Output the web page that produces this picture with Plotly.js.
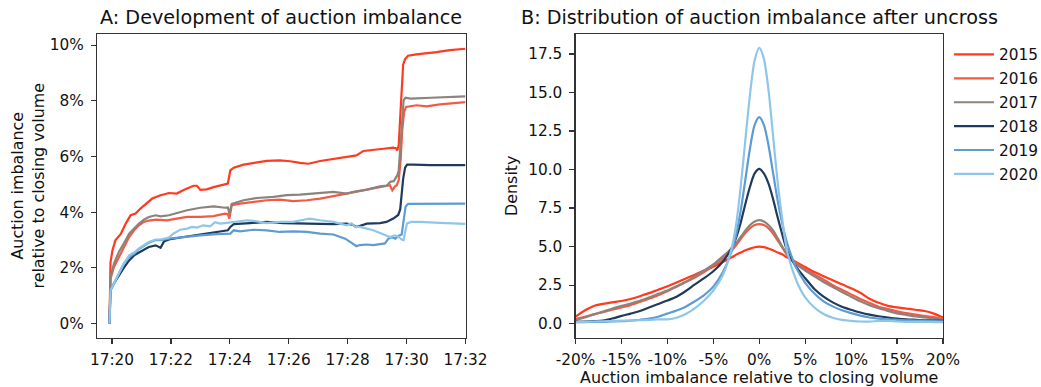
<!DOCTYPE html>
<html><head><meta charset="utf-8">
<script src="https://cdn.plot.ly/plotly-3.0.1.min.js"></script>
<style>html,body{margin:0;padding:0;background:#fff;} #chart{width:1041px;height:387px;}</style>
</head><body><div id="chart"></div>
<script>
// ---------- data ----------
const years = ['2015', '2016', '2017', '2018', '2019', '2020'];
const colors = ['#ff3a1f', '#f25a43', '#8c837c', '#1e3a5c', '#5e9bd0', '#8ec6ea'];

// Panel A: seconds relative to 17:20:00, imbalance in %
const t2015 = [-5,-3,1,7,18,28,38,48,58,69,82,99,116,132,146,166,173,180,193,207,224,236,241,248,268,288,315,342,363,383,400,424,451,478,498,512,532,553,573,578,581,584,587,590,593,597,603,620,641,661,688,720];
const v2015 = [0,2.2,2.63,2.99,3.22,3.59,3.89,3.95,4.13,4.31,4.49,4.61,4.69,4.67,4.8,4.95,4.95,4.8,4.82,4.9,4.99,5.03,5.5,5.6,5.71,5.77,5.84,5.86,5.83,5.77,5.74,5.84,5.92,5.98,6.04,6.2,6.25,6.28,6.32,6.3,6.22,6.4,7.4,8.6,9.3,9.5,9.62,9.67,9.7,9.75,9.82,9.87];

const t2016 = [-5,-3,4,14,24,35,45,55,65,75,90,112,132,153,180,207,230,236,239,244,261,288,315,342,369,397,424,451,478,505,532,546,560,566,571,576,580,584,588,591,595,599,620,641,668,695,720];
const v2016 = [0,1.6,2.03,2.39,2.75,3.11,3.35,3.53,3.65,3.7,3.73,3.71,3.77,3.83,3.83,3.86,3.95,3.93,3.77,4.25,4.31,4.37,4.43,4.45,4.4,4.43,4.49,4.58,4.67,4.75,4.85,4.9,4.95,4.97,4.79,4.92,4.97,5.15,5.9,6.9,7.6,7.78,7.84,7.8,7.87,7.92,7.95];

const t2017 = [-5,-3,4,14,24,35,45,55,65,75,89,99,116,132,153,180,207,230,236,239,244,268,295,329,356,383,417,451,478,492,519,546,560,567,574,581,584,587,591,594,598,608,649,688,720];
const v2017 = [0,1.67,2.15,2.57,2.87,3.23,3.41,3.59,3.73,3.83,3.89,3.85,3.89,3.97,4.07,4.16,4.21,4.16,4.17,3.95,4.3,4.43,4.51,4.55,4.61,4.63,4.67,4.73,4.67,4.73,4.81,4.93,4.96,5.09,5.12,5.32,5.5,6.22,7.42,8.02,8.11,8.08,8.11,8.14,8.16];

const t2018 = [-5,-3,4,14,24,35,45,55,65,75,89,99,106,116,146,180,214,236,241,248,281,315,349,383,417,451,478,490,498,519,546,559,573,583,587,590,593,597,601,614,648,720];
const v2018 = [0,1.2,1.44,1.73,2.0,2.27,2.45,2.55,2.65,2.75,2.81,2.72,2.95,3.02,3.11,3.21,3.29,3.35,3.47,3.57,3.61,3.65,3.61,3.59,3.59,3.57,3.59,3.55,3.47,3.59,3.61,3.65,3.77,3.9,4.1,4.6,5.2,5.6,5.71,5.71,5.69,5.69];

const t2019 = [-5,-3,4,14,24,35,45,55,65,75,89,99,116,146,180,214,236,241,248,261,288,315,342,370,397,424,451,464,475,488,498,505,519,532,546,556,563,570,577,583,590,594,598,603,650,720];
const v2019 = [0,1.2,1.44,1.8,2.15,2.39,2.5,2.68,2.8,2.9,3.0,3.0,3.05,3.11,3.17,3.21,3.21,3.23,3.35,3.31,3.37,3.35,3.29,3.31,3.29,3.23,3.2,3.11,3.05,2.9,2.78,2.82,2.84,2.82,2.84,2.88,3.05,3.1,3.05,3.15,3.2,3.7,4.2,4.3,4.31,4.31];

const t2020 = [-5,-3,4,14,24,35,45,55,65,75,89,99,116,125,139,153,163,173,186,200,210,220,230,247,275,288,315,342,369,390,403,424,451,464,478,488,495,505,519,532,546,559,566,576,583,590,594,597,601,610,627,668,720];
const v2020 = [0,1.2,1.44,1.8,2.15,2.45,2.55,2.7,2.82,2.93,3.02,3.02,3.09,3.23,3.37,3.41,3.47,3.45,3.53,3.49,3.64,3.59,3.61,3.65,3.71,3.69,3.61,3.65,3.65,3.73,3.77,3.71,3.65,3.59,3.53,3.6,3.47,3.47,3.4,3.35,3.25,3.15,3.11,3.17,3.12,3.02,3.0,3.3,3.6,3.65,3.65,3.62,3.58];

// Panel B: imbalance (%) grid and densities
const densityX = [-20,-19,-18,-17,-16,-15,-14,-13,-12,-11,-10,-9,-8,-7,-6,-5,-4,-3,-2.5,-2,-1.5,-1,-0.5,0,0.5,1,1.5,2,2.5,3,4,5,6,7,8,9,10,11,12,13,14,15,16,17,18,19,20];
const d2015 = [0.45,0.85,1.15,1.28,1.38,1.47,1.6,1.78,1.98,2.2,2.42,2.67,2.93,3.18,3.45,3.7,4.0,4.3,4.48,4.62,4.76,4.87,4.96,5.0,4.97,4.88,4.76,4.62,4.5,4.3,4.0,3.67,3.35,3.08,2.82,2.55,2.3,2.0,1.62,1.35,1.15,1.05,0.98,0.9,0.82,0.65,0.4];
const d2016 = [0.3,0.45,0.6,0.75,0.9,1.05,1.2,1.4,1.62,1.85,2.1,2.4,2.7,3.0,3.35,3.75,4.2,4.75,5.1,5.5,5.9,6.2,6.4,6.46,6.4,6.2,5.85,5.4,4.95,4.5,3.95,3.55,3.2,2.85,2.5,2.2,1.9,1.6,1.35,1.1,0.95,0.8,0.68,0.58,0.5,0.42,0.3];
const d2017 = [0.22,0.4,0.6,0.78,0.97,1.15,1.3,1.48,1.7,1.93,2.15,2.42,2.72,3.08,3.45,3.85,4.35,4.9,5.25,5.65,6.05,6.4,6.63,6.72,6.63,6.4,6.05,5.55,5.0,4.5,3.86,3.45,3.07,2.7,2.38,2.05,1.75,1.45,1.2,1.0,0.83,0.67,0.57,0.47,0.4,0.33,0.25];
const d2018 = [0.11,0.13,0.16,0.2,0.33,0.5,0.65,0.82,1.05,1.27,1.5,1.75,2.12,2.55,2.95,3.4,4.0,4.9,5.6,6.6,7.8,8.9,9.75,10.04,9.75,9.1,8.1,6.9,5.8,4.8,3.7,2.95,2.25,1.75,1.38,1.1,0.9,0.72,0.58,0.48,0.4,0.33,0.28,0.25,0.22,0.2,0.18];
const d2019 = [0.1,0.1,0.11,0.12,0.14,0.16,0.2,0.25,0.32,0.45,0.65,0.85,1.1,1.45,1.85,2.4,3.3,4.7,5.8,7.4,9.4,11.4,12.9,13.4,12.9,11.6,9.8,8.0,6.5,5.3,3.65,2.65,1.95,1.45,1.12,0.87,0.68,0.52,0.4,0.33,0.28,0.25,0.22,0.2,0.18,0.16,0.15];
const d2020 = [0.1,0.12,0.14,0.15,0.17,0.19,0.2,0.22,0.24,0.27,0.28,0.38,0.62,1.0,1.5,2.15,3.1,4.9,6.5,9.0,12.0,14.9,17.1,17.9,17.2,15.2,12.2,9.2,6.8,4.8,2.85,1.7,1.05,0.62,0.38,0.24,0.18,0.14,0.13,0.18,0.18,0.14,0.12,0.12,0.11,0.1,0.1];

// tick labels
const timeTickLabelsFormat = '%H:%M';
const densityTicks = [-20,-15,-10,-5,0,5,10,15,20];
const densityTickLabels = ['-20%','-15%','-10%','-5%','0%','5%','10%','15%','20%'];
const densityYTicks = [0,2.5,5,7.5,10,12.5,15,17.5];
const densityYTickLabels = ['0.0','2.5','5.0','7.5','10.0','12.5','15.0','17.5'];
const imbalanceYTicks = [0,2,4,6,8,10];
const imbalanceYTickLabels = ['0%','2%','4%','6%','8%','10%'];

// ---------- build ----------
function pad(n){ return (n < 10 ? '0' : '') + n; }
function toTime(s){
  const total = 17*3600 + 20*60 + s;
  const h = Math.floor(total/3600);
  const m = Math.floor((total - h*3600)/60);
  const sec = total - h*3600 - m*60;
  const si = Math.floor(sec);
  const ms = Math.round((sec - si)*1000);
  return '2020-01-02 ' + pad(h) + ':' + pad(m) + ':' + pad(si) + (ms ? '.' + String(ms).padStart(3,'0') : '');
}

const seriesT = [t2015, t2016, t2017, t2018, t2019, t2020];
const seriesV = [v2015, v2016, v2017, v2018, v2019, v2020];
const seriesD = [d2015, d2016, d2017, d2018, d2019, d2020];

const W = 1041, H = 387;
const fx = p => p / W;
const fy = p => 1 - p / H;
const LW = 2.2;
const FONT = 'DejaVu Sans';
const TXT = '#111';

const traces = [];
years.forEach((yr, i) => {
  traces.push({
    type: 'scatter', mode: 'lines', name: yr, legendgroup: yr, showlegend: false,
    x: seriesT[i].map(toTime), y: seriesV[i],
    xaxis: 'x', yaxis: 'y',
    line: {color: colors[i], width: LW}, hoverinfo: 'skip'
  });
});
years.forEach((yr, i) => {
  traces.push({
    type: 'scatter', mode: 'lines', name: yr, legendgroup: yr, showlegend: true,
    x: densityX, y: seriesD[i],
    xaxis: 'x2', yaxis: 'y2',
    line: {color: colors[i], width: LW, shape: 'spline', smoothing: 0.8}, hoverinfo: 'skip'
  });
});

const axisCommon = {
  showline: true, mirror: true, linecolor: '#333', linewidth: 1.2,
  ticks: 'outside', ticklen: 5, tickwidth: 1.2, tickcolor: '#333',
  showgrid: false, zeroline: false, automargin: false,
  tickfont: {family: FONT, size: 15.3, color: TXT}
};
const yDomain = [fy(337.5), fy(34)];
const labelFont = {family: FONT, size: 15.9, color: TXT};

const layout = {
  width: W, height: H,
  margin: {l: 0, r: 0, t: 0, b: 0, pad: 0, autoexpand: false},
  paper_bgcolor: '#fff', plot_bgcolor: '#fff',
  font: {family: FONT, size: 15, color: TXT},
  showlegend: true,
  legend: {
    x: fx(949), y: fy(38), xanchor: 'left', yanchor: 'top',
    font: {family: FONT, size: 15.3, color: TXT},
    itemwidth: 40,
    tracegroupgap: 1, bgcolor: 'rgba(0,0,0,0)', borderwidth: 0
  },
  xaxis: Object.assign({}, axisCommon, {
    domain: [fx(97), fx(465.5)], anchor: 'y', type: 'date',
    range: [toTime(-30.5), toTime(720)],
    tick0: toTime(0), dtick: 120000, tickformat: timeTickLabelsFormat,
    ticklabelstandoff: 3
  }),
  yaxis: Object.assign({}, axisCommon, {
    domain: yDomain, anchor: 'x', range: [-0.5, 10.4],
    tickmode: 'array', tickvals: imbalanceYTicks, ticktext: imbalanceYTickLabels, ticklabelstandoff: 4,
    title: {text: 'Auction imbalance<br>relative to closing volume', standoff: 1, font: labelFont}
  }),
  xaxis2: Object.assign({}, axisCommon, {
    domain: [fx(575.5), fx(943)], anchor: 'y2', range: [-20, 20],
    tickmode: 'array', tickvals: densityTicks, ticktext: densityTickLabels, ticklabelstandoff: 3,
    title: {text: 'Auction imbalance relative to closing volume', standoff: 2, font: labelFont}
  }),
  yaxis2: Object.assign({}, axisCommon, {
    domain: yDomain, anchor: 'x2', range: [-0.9, 18.8],
    tickmode: 'array', tickvals: densityYTicks, ticktext: densityYTickLabels, ticklabelstandoff: 4,
    title: {text: 'Density', standoff: 6, font: labelFont}
  }),
  annotations: [
    {text: 'A: Development of auction imbalance', xref: 'paper', yref: 'paper',
     x: fx(281.25), y: fy(18), xanchor: 'center', yanchor: 'middle', showarrow: false,
     font: {family: FONT, size: 19.2, color: TXT}},
    {text: 'B: Distribution of auction imbalance after uncross', xref: 'paper', yref: 'paper',
     x: fx(759.25), y: fy(18), xanchor: 'center', yanchor: 'middle', showarrow: false,
     font: {family: FONT, size: 19.2, color: TXT}}
  ]
};

Plotly.newPlot('chart', traces, layout, {staticPlot: true, displayModeBar: false});
</script></body></html>
